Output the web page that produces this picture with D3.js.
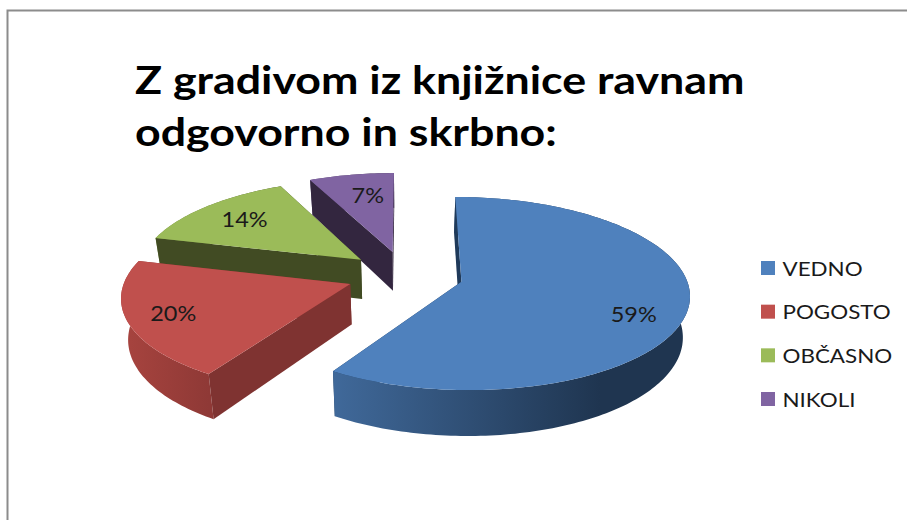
<!DOCTYPE html>
<html>
<head>
<meta charset="utf-8">
<script src="https://cdn.jsdelivr.net/npm/d3@7"></script>
<style>
html,body{margin:0;padding:0;background:#fff;}
svg{display:block;}
text{font-family:Lato,"Open Sans",sans-serif;}
</style>
</head>
<body>
<div id="chart"></div>
<script>
// Survey answers, in percent
const categories = ["VEDNO", "POGOSTO", "OBČASNO", "NIKOLI"];
const values = [59, 20, 14, 7];
const titleLines = ["Z gradivom iz knjižnice ravnam", "odgovorno in skrbno:"];

// Palette per slice
const topColors = ["#4f81bd", "#c0504d", "#9bbb59", "#8064a2"];
const rimFrom = ["#40699a", "#a8443f", "#7d964a", "#66507f"];
const rimTo = ["#1f3550", "#8f3936", "#414b23", "#33263f"];
const sideColors = ["#1f3a5a", "#7f3331", "#414b23", "#33263f"];

const W = 907, H = 520;
const svg = d3.select("#chart").append("svg").attr("width", W).attr("height", H);

// Frame around the chart area, open to the right and bottom
const framePath = d3.path();
framePath.moveTo(7.5, H);
framePath.lineTo(7.5, 10.5);
framePath.lineTo(W, 10.5);
svg.append("path").attr("d", framePath.toString()).attr("fill", "none")
  .attr("stroke", "#8c8c8c").attr("stroke-width", 2);

// Title, set wide
svg.append("g").attr("transform", "translate(135,0) scale(1.147,1)")
  .selectAll("text").data(titleLines).join("text")
  .attr("x", 0)
  .attr("y", (d, i) => 94 + i * 52)
  .attr("font-size", 39)
  .attr("font-weight", 700)
  .attr("fill", "#000")
  .text(d => d);

// Perspective projection of the tilted pie: unit disc on top, extruded downward
const view = {cx: 405, cy: 275, rx: 224, ry: 93.5, persp: 0.12, depth: 40, floorShrink: 0.975, explode: 0.26};
function project(X, Y, down) {
  const w = 1 / (1 - view.persp * Y);
  const s = down ? view.floorShrink : 1;
  return [
    view.cx + view.rx * X * w * s,
    view.cy + (view.ry * Y + (down ? view.depth : 0)) * w
  ];
}

const pie = d3.pie().sort(null).value(d => d);
const arcs = pie(values);
const line = d3.line();

function sliceModel(a, i) {
  const mid = (a.startAngle + a.endAngle) / 2;
  const ox = Math.sin(mid) * view.explode;
  const oy = -Math.cos(mid) * view.explode;
  const rim = r => t => [ox + r * Math.sin(t), oy - r * Math.cos(t)];
  const n = Math.ceil((a.endAngle - a.startAngle) / 0.02);
  const steps = d3.range(n + 1).map(k => a.startAngle + (a.endAngle - a.startAngle) * k / n);
  return {a, i, mid, ox, oy, rim, steps};
}
const slices = arcs.map(sliceModel);

// Each rim wall is shaded left to right
const defs = svg.append("defs");
slices.forEach(s => {
  const xs = s.steps.map(t => { const p = s.rim(1)(t); return project(p[0], p[1], false)[0]; });
  const span = s.i === 0 ? [d3.min(xs), 600] : d3.extent(xs);
  const g = defs.append("linearGradient").attr("id", "rim" + s.i)
    .attr("gradientUnits", "userSpaceOnUse")
    .attr("x1", span[0]).attr("x2", span[1]).attr("y1", 0).attr("y2", 0);
  g.append("stop").attr("offset", 0).attr("stop-color", rimFrom[s.i]);
  g.append("stop").attr("offset", 1).attr("stop-color", rimTo[s.i]);
});

// A cut face is hidden when the slice's own top lies below its upper edge on screen
function faceHidden(apex, edge, middle) {
  const ex = edge[0] - apex[0], ey = edge[1] - apex[1];
  const mx = middle[0] - apex[0], my = middle[1] - apex[1];
  return ex * (ex * my - ey * mx) > 0;
}

// Painted from the back slice to the front one
const pieLayer = svg.append("g");
slices.slice().reverse().forEach(s => {
  const g = pieLayer.append("g");
  const rimAt = s.rim(1);
  const topRim = s.steps.map(t => { const p = rimAt(t); return project(p[0], p[1], false); });
  const floorRim = s.steps.map(t => { const p = rimAt(t); return project(p[0], p[1], true); });
  const apexTop = project(s.ox, s.oy, false);
  const apexFloor = project(s.ox, s.oy, true);
  const middle = topRim[Math.floor(topRim.length / 2)];

  const ends = [0, topRim.length - 1];
  const drawFace = e => g.append("path")
    .attr("d", line([apexTop, topRim[e], floorRim[e], apexFloor]) + "Z")
    .attr("fill", sideColors[s.i]);

  ends.filter(e => faceHidden(apexTop, topRim[e], middle)).forEach(drawFace);
  // Outer wall
  g.append("path")
    .attr("d", line(topRim.concat(floorRim.slice().reverse())) + "Z")
    .attr("fill", `url(#rim${s.i})`);
  ends.filter(e => !faceHidden(apexTop, topRim[e], middle)).forEach(drawFace);
  // Top face
  g.append("path")
    .attr("d", line([apexTop].concat(topRim)) + "Z")
    .attr("fill", topColors[s.i]);
});

// Percentage labels sit on the top face along each slice's middle radius
const labelRadius = [0.78, 0.84, 0.70, 0.70];
const labelShift = [[-3, 11], [9, -2], [-6, -3], [5, -1]];
const labelPoint = s => project(
  s.ox + labelRadius[s.i] * Math.sin(s.mid),
  s.oy - labelRadius[s.i] * Math.cos(s.mid),
  false
);
svg.append("g").selectAll("text").data(slices).join("text")
  .attr("transform", s => {
    const p = labelPoint(s);
    return `translate(${p[0] + labelShift[s.i][0]},${p[1] + labelShift[s.i][1]}) scale(1.12,1)`;
  })
  .attr("text-anchor", "middle")
  .attr("dominant-baseline", "central")
  .attr("font-size", 21)
  .attr("fill", "#1a1a1a")
  .text(s => s.a.data + "%");

// Legend
const legendY = d3.scalePoint().domain(categories).range([268, 399]);
const legend = svg.append("g").selectAll("g").data(categories).join("g")
  .attr("transform", d => `translate(761,${legendY(d)})`);
legend.append("rect")
  .attr("x", 0).attr("y", -7).attr("width", 14).attr("height", 14)
  .attr("fill", (d, i) => topColors[i]);
legend.append("text")
  .attr("transform", "translate(21.5,0) scale(1.12,1)")
  .attr("dominant-baseline", "central")
  .attr("font-size", 20)
  .attr("fill", "#1a1a1a")
  .text(d => d);
</script>
</body>
</html>
